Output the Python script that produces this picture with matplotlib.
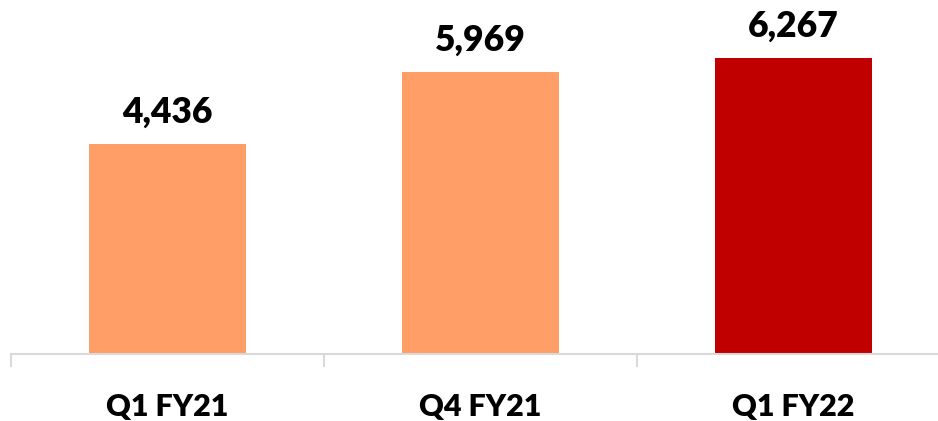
import matplotlib
matplotlib.use("Agg")
import matplotlib.pyplot as plt

categories = ["Q1 FY21", "Q4 FY21", "Q1 FY22"]
values = [4436, 5969, 6267]
colors = ["#FF9E66", "#FF9E66", "#C00000"]

plt.rcParams['font.family'] = ['Lato', 'DejaVu Sans']

fig = plt.figure(figsize=(9.38, 4.21), dpi=100)
W, H = 938, 421
left, right = 11, 950
bottom, top = 354, 23
ax = fig.add_axes([left / W, (H - bottom) / H, (right - left) / W, (bottom - top) / H])

x = range(len(categories))
bars = ax.bar(x, values, width=0.5, color=colors)
ax.set_xlim(-0.5, 2.5)
ax.set_ylim(0, 7000)

for b, v in zip(bars, values):
    ax.annotate(f"{v:,}", (b.get_x() + b.get_width() / 2, v), xytext=(0, 11),
                textcoords="offset points", ha="center", va="bottom",
                fontsize=25.5, fontweight="heavy", color="black", annotation_clip=False)

for s in ["top", "right", "left"]:
    ax.spines[s].set_visible(False)
ax.spines["bottom"].set_color("#D9D9D9")
ax.spines["bottom"].set_linewidth(1.5)
ax.set_yticks([])
ax.set_xticks([-0.5, 0.5, 1.5, 2.5], minor=False)
ax.set_xticklabels([])
ax.tick_params(axis="x", which="major", length=9, width=1.5, color="#D9D9D9")
ax.set_xticks(list(x), minor=True)
ax.set_xticklabels(categories, minor=True, fontsize=22, fontweight="heavy")
ax.tick_params(axis="x", which="minor", length=0, pad=28)

fig.savefig("out.png", dpi=100)
